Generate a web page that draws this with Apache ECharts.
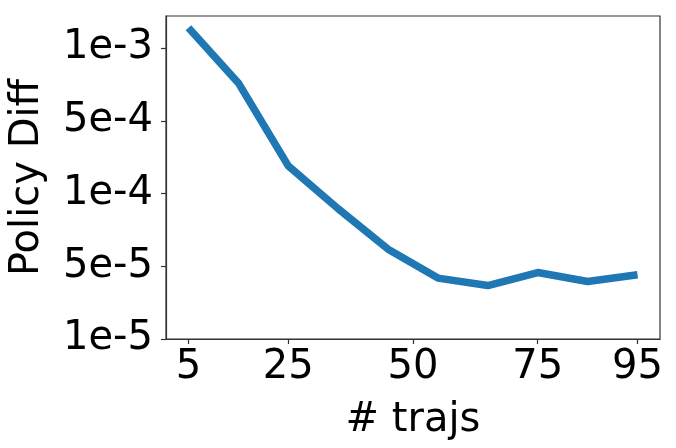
<!DOCTYPE html>
<html>
<head>
<meta charset="utf-8">
<script src="https://cdn.jsdelivr.net/npm/echarts@6/dist/echarts.min.js"></script>
<style>html,body{margin:0;padding:0;background:#fff}#c{width:676px;height:448px}</style>
</head>
<body>
<div id="c"></div>
<script>
// x: number of trajectories
var trajs = [5, 15, 25, 35, 45, 55, 65, 75, 85, 95];
// y: policy diff, in evenly spaced tick units (0 = 1e-5, 1 = 5e-5, 2 = 1e-4, 3 = 5e-4, 4 = 1e-3)
var policyDiff = [4.28, 3.52, 2.38, 1.79, 1.235, 0.837, 0.735, 0.914, 0.79, 0.882];
var xTicks = [5, 25, 50, 75, 95];
var yTickPos = [0, 1, 2, 3, 4];
var yTickLabels = ['1e-5', '5e-5', '1e-4', '5e-4', '1e-3'];

var font = 'DejaVu Sans';
var axisCol = '#333';
var chart = echarts.init(document.getElementById('c'), null, {renderer: 'canvas'});
chart.setOption({
  animation: false,
  grid: {left: 161, right: 16, top: 16, bottom: 109, show: true, borderColor: axisCol, borderWidth: 1.2, containLabel: false},
  xAxis: {
    type: 'value', min: 0.5, max: 99.5,
    name: '# trajs', nameLocation: 'middle', nameGap: 62,
    nameTextStyle: {fontFamily: font, fontSize: 40, color: '#000'},
    axisLine: {show: true, lineStyle: {color: axisCol, width: 1.2}},
    axisTick: {show: true, inside: false, length: 5, lineStyle: {color: axisCol, width: 1.2}, customValues: xTicks},
    axisLabel: {fontFamily: font, fontSize: 40, color: '#000', margin: 9, customValues: xTicks},
    splitLine: {show: false}
  },
  yAxis: {
    type: 'value', min: 0, max: 4.44,
    name: 'Policy Diff', nameLocation: 'middle', nameGap: 118, nameRotate: 90,
    nameTextStyle: {fontFamily: font, fontSize: 40, color: '#000'},
    axisLine: {show: true, lineStyle: {color: axisCol, width: 1.2}},
    axisTick: {show: true, inside: false, length: 5, lineStyle: {color: axisCol, width: 1.2}, customValues: yTickPos},
    axisLabel: {fontFamily: font, fontSize: 40, color: '#000', margin: 13, customValues: yTickPos,
      formatter: function (v) { var i = yTickPos.indexOf(Math.round(v)); return i >= 0 ? yTickLabels[i] : ''; }},
    splitLine: {show: false}
  },
  series: [{
    type: 'line',
    data: trajs.map(function (x, i) { return [x, policyDiff[i]]; }),
    showSymbol: false, symbol: 'none',
    lineStyle: {color: '#1f77b4', width: 7.5, cap: 'butt', join: 'round'},
    itemStyle: {color: '#1f77b4'}
  }]
});
</script>
</body>
</html>
